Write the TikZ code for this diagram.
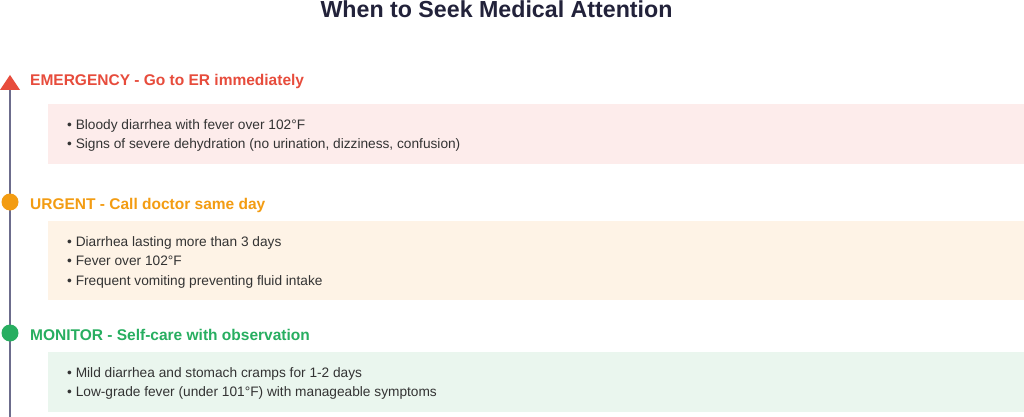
\documentclass[tikz,border=0pt]{standalone}
\usepackage{fontspec}
\setmainfont{Liberation Sans}
\definecolor{emred}{HTML}{E74C3C}
\definecolor{urgorange}{HTML}{F39C12}
\definecolor{mongreen}{HTML}{27AE60}
\definecolor{titlecol}{HTML}{22223A}
\definecolor{textcol}{HTML}{333333}
\definecolor{linecol}{HTML}{6C6C8C}
\definecolor{redfill}{HTML}{FDECEB}
\definecolor{orangefill}{HTML}{FEF3E6}
\definecolor{greenfill}{HTML}{EAF6EE}
\begin{document}
\begin{tikzpicture}[x=1pt,y=-1pt,
  heading/.style={anchor=base west,inner sep=0pt,font=\fontsize{15.5pt}{18pt}\selectfont\bfseries},
  bullet/.style={anchor=base west,inner sep=0pt,text=textcol,font=\fontsize{13.7pt}{16pt}\selectfont},
  dot/.style={circle,inner sep=0pt,minimum size=17pt}]
\useasboundingbox (0,0) rectangle (1024,417);
\fill[white] (0,0) rectangle (1024,417);
% title
\node[anchor=base,inner sep=0pt,text=titlecol,font=\fontsize{23.2pt}{27pt}\selectfont\bfseries] (title) at (496.5,17.3) {When to Seek Medical Attention};
% boxes
\fill[redfill] (48,104) rectangle (1024,164);
\fill[orangefill] (48,221) rectangle (1024,300);
\fill[greenfill] (48,352) rectangle (1024,412);
% timeline
\coordinate (top) at (10,90);
\coordinate (bottom) at (10,417);
\draw[linecol,line width=2pt] (bottom) -- (top);
\fill[emred] (0,90) -- (10,75) -- (20,90) -- cycle;
\node[dot,fill=urgorange] (d2) at (10,202) {};
\node[dot,fill=mongreen] (d3) at (10,333) {};
% headings
\node[heading,text=emred] (h1) at (30,85.5) {EMERGENCY - Go to ER immediately};
\node[heading,text=urgorange] (h2) at (30,209) {URGENT - Call doctor same day};
\node[heading,text=mongreen] (h3) at (30,340) {MONITOR - Self-care with observation};
% bullets
\node[bullet] (b11) at (67,129) {• Bloody diarrhea with fever over 102°F};
\node[bullet] (b12) at (67,148.5) {• Signs of severe dehydration (no urination, dizziness, confusion)};
\node[bullet] (b21) at (67,246) {• Diarrhea lasting more than 3 days};
\node[bullet] (b22) at (67,265.5) {• Fever over 102°F};
\node[bullet] (b23) at (67,285) {• Frequent vomiting preventing fluid intake};
\node[bullet] (b31) at (67,377) {• Mild diarrhea and stomach cramps for 1-2 days};
\node[bullet] (b32) at (67,396.5) {• Low-grade fever (under 101°F) with manageable symptoms};
\end{tikzpicture}
\end{document}
